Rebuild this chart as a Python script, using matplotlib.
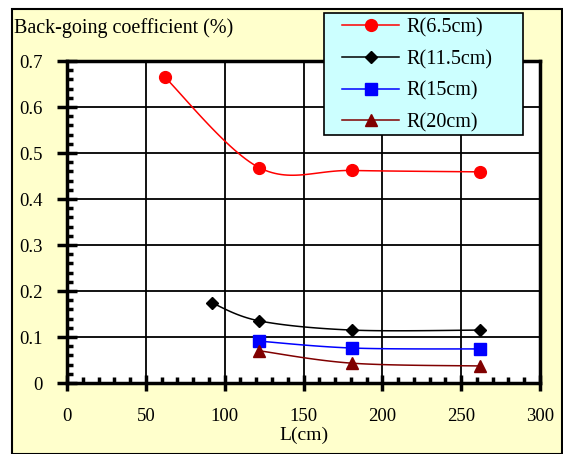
import numpy as np
import matplotlib
matplotlib.use("Agg")
import matplotlib.pyplot as plt
from matplotlib.patches import Rectangle

plt.rcParams['font.family'] = ['Liberation Serif', 'DejaVu Serif']

labels = ["R(6.5cm)", "R(11.5cm)", "R(15cm)", "R(20cm)"]
x_r65 = [62, 122, 181, 262]
y_r65 = [0.665, 0.468, 0.462, 0.459]
x_r115 = [92, 122, 181, 262]
y_r115 = [0.174, 0.135, 0.115, 0.115]
x_r15 = [122, 181, 262]
y_r15 = [0.091, 0.076, 0.074]
x_r20 = [122, 181, 262]
y_r20 = [0.070, 0.043, 0.037]

colors = ["#FF0000", "#000000", "#0000FF", "#800000"]
markers = ["o", "D", "s", "^"]
msizes = [8.5, 6.5, 8.5, 9]


def catmull(x, y, n=30):
    x = np.asarray(x, float); y = np.asarray(y, float)
    if len(x) < 3:
        return x, y
    P = np.column_stack([x, y])
    P = np.vstack([P[0], P, P[-1]])
    out = []
    for i in range(1, len(P) - 2):
        p0, p1, p2, p3 = P[i - 1], P[i], P[i + 1], P[i + 2]
        c1 = p1 + (p2 - p0) / 6
        c2 = p2 - (p3 - p1) / 6
        t = np.linspace(0, 1, n)[:, None]
        seg = ((1 - t) ** 3) * p1 + 3 * ((1 - t) ** 2) * t * c1 + 3 * (1 - t) * t ** 2 * c2 + t ** 3 * p2
        out.append(seg)
    out = np.vstack(out)
    return out[:, 0], out[:, 1]


fig = plt.figure(figsize=(5.63, 4.54), dpi=100)
fig.patch.set_facecolor("white")
fig.patches.append(Rectangle((12 / 563, 0), (562 - 12) / 563, (454 - 9) / 454,
                             transform=fig.transFigure, facecolor="#FFFFCC",
                             edgecolor="black", linewidth=1.5, zorder=-10))

ax = fig.add_axes([67 / 563, 1 - 383 / 454, (540 - 67) / 563, (383 - 61) / 454])
ax.set_facecolor("white")

series = [(x_r65, y_r65), (x_r115, y_r115), (x_r15, y_r15), (x_r20, y_r20)]
handles = []
for (xs, ys), c, m, ms, lab in zip(series, colors, markers, msizes, labels):
    sx, sy = catmull(xs, ys)
    ax.plot(sx, sy, color=c, lw=1.1, zorder=3)
    ax.plot(xs, ys, linestyle="none", marker=m, color=c, markersize=ms, zorder=4)
    h, = ax.plot([], [], color=c, lw=1.1, marker=m, markersize=ms, label=lab)
    handles.append(h)

ax.set_xlim(0, 300)
ax.set_ylim(0, 0.7)
ax.set_xticks(np.arange(0, 301, 50))
ax.set_yticks(np.arange(0, 0.71, 0.1))
ax.set_yticklabels(["0", "0.1", "0.2", "0.3", "0.4", "0.5", "0.6", "0.7"])
ax.set_xticks(np.arange(0, 301, 10), minor=True)
ax.set_yticks(np.arange(0, 0.701, 0.02), minor=True)
ax.grid(True, which="major", color="black", lw=1.3)
ax.set_axisbelow(True)
for s in ax.spines.values():
    s.set_linewidth(2.5)
ax.tick_params(which="major", direction="inout", width=2.5, labelsize=13.5)
ax.tick_params(axis="y", which="major", length=14.5, pad=10)
ax.tick_params(axis="x", which="major", length=12, pad=12)
ax.tick_params(which="minor", direction="in", length=4.5, width=2.5)

ax.set_xlabel("L(cm)", fontsize=14, labelpad=1)

fig.text(14 / 563, 1 - 28 / 454, "Back-going coefficient (%)", fontsize=14.5,
         va="center", ha="left")

# legend box
fig.patches.append(Rectangle((324 / 563, 1 - 135 / 454), 199 / 563, 122 / 454,
                             transform=fig.transFigure, facecolor="#CCFFFF",
                             edgecolor="black", linewidth=1.2, zorder=4))
leg = fig.legend(handles=handles, loc="upper left",
                 bbox_to_anchor=(342 / 563, 1 - 18 / 454), fontsize=14.5,
                 frameon=False, handlelength=2.85, borderpad=0,
                 borderaxespad=0, labelspacing=0.62, handletextpad=0.35)
leg.set_zorder(5)

fig.savefig("out.png", dpi=100)
